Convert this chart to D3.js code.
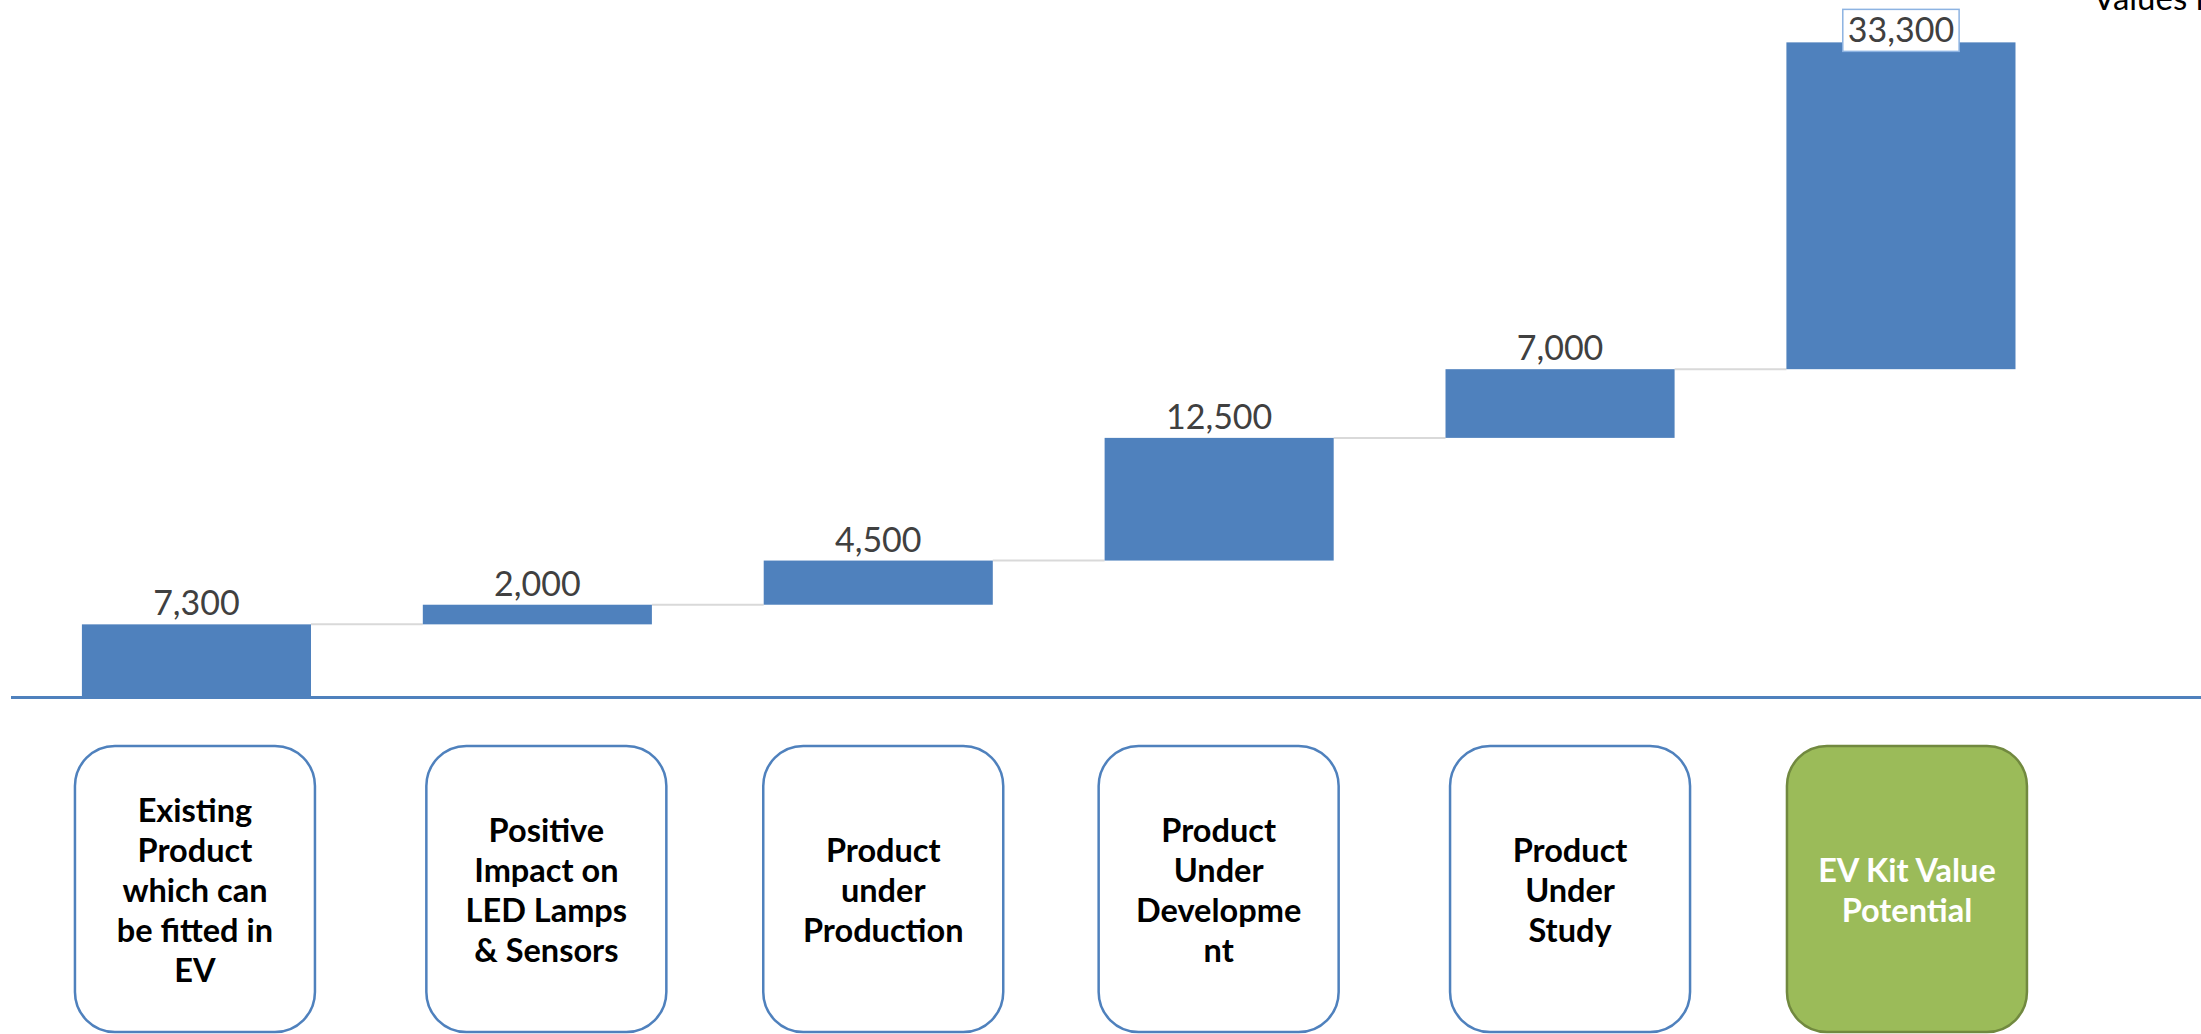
<!DOCTYPE html>
<html>
<head>
<meta charset="utf-8">
<script src="https://cdn.jsdelivr.net/npm/d3@7"></script>
<style>
  html, body { margin: 0; padding: 0; background: #ffffff; overflow: hidden; }
  svg { display: block; }
</style>
</head>
<body>
<svg id="chart" width="2201" height="1034"></svg>
<script>
// Waterfall build-up of the EV kit value potential
const categories = [
  "Existing Product which can be fitted in EV",
  "Positive Impact on LED Lamps & Sensors",
  "Product under Production",
  "Product Under Development",
  "Product Under Study",
  "EV Kit Value Potential"
];
const values = [7300, 2000, 4500, 12500, 7000, 33300];
const categoryLines = [
  ["Existing", "Product", "which can", "be fitted in", "EV"],
  ["Positive", "Impact on", "LED Lamps", "& Sensors"],
  ["Product", "under", "Production"],
  ["Product", "Under", "Developme", "nt"],
  ["Product", "Under", "Study"],
  ["EV Kit Value", "Potential"]
];
const unitNote = "Values in";

// layout
const width = 2201, height = 1034;
const boxNudge = [-1.5, 9, 5, -0.5, 10, 6];
const boxTop = 746, boxW = 240, boxH = 286, boxR = 40;
const lineGap = 40, textMid = 891;

const barBlue = "#4f81bd";
const svg = d3.select("#chart");

const x = d3.scaleBand()
  .domain(categories)
  .range([26, 2071.4])
  .paddingInner(0.328)
  .paddingOuter(0.164);

const y = d3.scaleLinear().domain([0, 70000]).range([696, 9]);

// running totals: each step floats on the sum of everything before it
let running = 0;
const steps = values.map((v, i) => {
  const s = { cat: categories[i], v, start: running, end: running + v, i };
  running += v;
  return s;
});

const bw = x.bandwidth();
const fmt = d3.format(",");

// connector lines between consecutive steps
svg.append("g")
  .selectAll("line")
  .data(steps.slice(0, -1))
  .join("line")
  .attr("x1", d => x(d.cat) + bw)
  .attr("x2", d => x(categories[d.i + 1]))
  .attr("y1", d => y(d.end))
  .attr("y2", d => y(d.end))
  .attr("stroke", "#d9d9d9")
  .attr("stroke-width", 2);

// bars
svg.append("g")
  .selectAll("rect")
  .data(steps)
  .join("rect")
  .attr("x", d => x(d.cat))
  .attr("width", bw)
  .attr("y", d => y(d.end))
  .attr("height", d => y(d.start) - y(d.end))
  .attr("fill", barBlue);

// category axis line
svg.append("line")
  .attr("x1", 11).attr("x2", width)
  .attr("y1", y(0) + 1.5).attr("y2", y(0) + 1.5)
  .attr("stroke", barBlue)
  .attr("stroke-width", 3);

// value labels
const labelFont = "Lato, 'Open Sans', sans-serif";
const labels = svg.append("g");
steps.forEach((d, i) => {
  const last = i === steps.length - 1;
  const cx = x(d.cat) + bw / 2;
  const ty = last ? y(d.end) : y(d.end) - 9;
  const g = labels.append("g");
  const t = g.append("text")
    .attr("x", cx)
    .attr("y", ty)
    .attr("text-anchor", "middle")
    .attr("font-family", labelFont)
    .attr("font-size", 34)
    .attr("fill", "#404040")
    .text(fmt(d.v));
  if (last) {
    const bb = t.node().getBBox();
    g.insert("rect", "text")
      .attr("x", bb.x - 5)
      .attr("y", ty - 33)
      .attr("width", bb.width + 10)
      .attr("height", 42)
      .attr("fill", "#ffffff")
      .attr("stroke", "#8db3e2")
      .attr("stroke-width", 1.5);
  }
});

// category boxes under the axis
const boxes = svg.append("g")
  .selectAll("g")
  .data(categories)
  .join("g")
  .attr("transform", (c, i) => `translate(${x(c) + bw / 2 + boxNudge[i]},0)`);

boxes.append("rect")
  .attr("x", -boxW / 2)
  .attr("y", boxTop)
  .attr("width", boxW)
  .attr("height", boxH)
  .attr("rx", boxR)
  .attr("ry", boxR)
  .attr("fill", (c, i) => i === categories.length - 1 ? "#9bbb59" : "#ffffff")
  .attr("stroke", (c, i) => i === categories.length - 1 ? "#71893f" : barBlue)
  .attr("stroke-width", 2.5);

boxes.each(function (c, i) {
  const lines = categoryLines[i];
  const first = textMid - (lines.length - 1) * lineGap / 2;
  d3.select(this).selectAll("text")
    .data(lines)
    .join("text")
    .attr("x", 0)
    .attr("y", (l, k) => first + k * lineGap + 11)
    .attr("text-anchor", "middle")
    .attr("font-family", labelFont)
    .attr("font-weight", 700)
    .attr("font-size", 32.5)
    .attr("fill", i === categories.length - 1 ? "#ffffff" : "#000000")
    .text(l => l);
});

// unit note, running off the right edge
svg.append("text")
  .attr("x", 2093)
  .attr("y", 10)
  .attr("font-family", labelFont)
  .attr("font-size", 33)
  .attr("fill", "#000000")
  .text(unitNote);
</script>
</body>
</html>
